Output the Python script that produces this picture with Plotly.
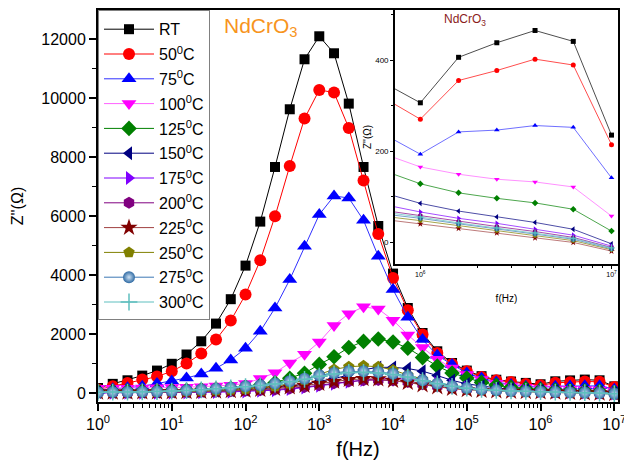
import plotly.graph_objects as go

# frequency exponents (log10 f) of the measured points
freq_exp = [0.0, 0.2, 0.4, 0.6, 0.8, 1.0, 1.2, 1.4, 1.6, 1.8,
            2.0, 2.2, 2.4, 2.6, 2.8, 3.0, 3.2, 3.4, 3.6, 3.8,
            4.0, 4.2, 4.4, 4.6, 4.8, 5.0, 5.2, 5.4, 5.6, 5.8,
            6.0, 6.2, 6.4, 6.6, 6.8, 7.0]
freq = [10 ** e for e in freq_exp]

z_RT = [180, 320, 441, 600, 770, 1000, 1315, 1763, 2363, 3190,
        4328, 5820, 7672, 9628, 11323, 12102, 11526, 9820, 7672, 5672,
        4058, 2892, 2045, 1424, 1028, 770, 580, 460, 400, 352,
        306, 406, 438, 465, 441, 235]
z_50 = [130, 237, 350, 464, 566, 746, 1007, 1346, 1820, 2464,
        3346, 4509, 6000, 7705, 9312, 10283, 10194, 8995, 7210, 5400,
        3909, 2814, 1990, 1366, 993, 746, 553, 441, 383, 319,
        270, 355, 377, 402, 389, 214]
z_75 = [100, 150, 190, 237, 330, 420, 519, 650, 850, 1130,
        1525, 2102, 2892, 3854, 4983, 6058, 6689, 6621, 5865, 4644,
        3515, 2576, 1820, 1288, 973, 688, 519, 383, 300, 239,
        193, 242, 246, 256, 252, 141]
z_100 = [170, 170, 175, 180, 185, 195, 205, 220, 245, 275,
         335, 498, 700, 1030, 1320, 1740, 2300, 2700, 2930, 2860,
         2480, 1980, 1550, 1150, 860, 634, 464, 340, 250, 195,
         165, 149, 138, 132, 121, 57]
z_125 = [70, 70, 75, 80, 85, 95, 105, 120, 140, 170,
         215, 271, 360, 510, 680, 980, 1240, 1550, 1760, 1840,
         1740, 1530, 1210, 920, 690, 520, 370, 270, 200, 158,
         128, 108, 96, 86, 72, 24]
z_150 = [40, 40, 42, 45, 50, 55, 62, 72, 85, 100,
         120, 150, 190, 240, 310, 400, 500, 620, 800, 880,
         880, 840, 750, 600, 440, 320, 240, 180, 140, 109,
         85, 68, 55, 43, 28, -4]
z_175 = [15, 15, 15, 16, 18, 20, 24, 30, 38, 48,
         62, 80, 105, 140, 190, 250, 320, 390, 450, 490,
         500, 480, 420, 340, 260, 195, 150, 125, 100, 83,
         66, 52, 41, 28, 15, -9]
z_200 = [20, 20, 22, 25, 28, 32, 38, 45, 55, 68,
         85, 105, 130, 165, 210, 270, 340, 400, 440, 450,
         430, 380, 310, 240, 180, 140, 110, 95, 80, 70,
         58, 45, 34, 23, 10, -12]
z_225 = [30, 30, 32, 35, 38, 42, 48, 56, 67, 82,
         100, 125, 160, 205, 260, 330, 400, 460, 490, 480,
         430, 360, 280, 210, 155, 115, 88, 70, 58, 50,
         40, 30, 20, 9, -1, -20]
z_250 = [40, 40, 42, 45, 50, 56, 65, 78, 95, 120,
         150, 190, 230, 330, 450, 640, 810, 900, 930, 900,
         790, 620, 470, 340, 240, 170, 125, 95, 75, 57,
         47, 36, 25, 14, 3, -17]
z_275 = [30, 44, 44, 50, 60, 80, 100, 125, 158, 192,
         237, 271, 328, 407, 497, 610, 688, 746, 746, 723,
         666, 576, 441, 328, 240, 180, 135, 105, 80, 62,
         52, 40, 29, 18, 6, -15]
z_300 = [35, 40, 42, 48, 58, 75, 95, 118, 150, 185,
         225, 262, 315, 390, 475, 580, 655, 705, 710, 690,
         635, 550, 425, 320, 235, 175, 130, 100, 80, 66,
         55, 42, 31, 20, 8, -13]

series_names = ["RT", "50<sup>0</sup>C", "75<sup>0</sup>C", "100<sup>0</sup>C",
                "125<sup>0</sup>C", "150<sup>0</sup>C", "175<sup>0</sup>C",
                "200<sup>0</sup>C", "225<sup>0</sup>C", "250<sup>0</sup>C",
                "275<sup>0</sup>C", "300<sup>0</sup>C"]
series_vals = [z_RT, z_50, z_75, z_100, z_125, z_150, z_175, z_200,
               z_225, z_250, z_275, z_300]
marker_colors = ["#000000", "#FF0000", "#0000FF", "#FF00FF", "#008000",
                 "#000080", "#8000FF", "#800080", "#800000", "#808000",
                 "#2F6AA3", "#5FBFBF"]
line_colors = ["#000000", "#FF0000", "#3030FF", "#FF60FF", "#008000",
               "#000080", "#8000FF", "#800080", "#A04040", "#808000",
               "#3C78B4", "#5FBFBF"]
symbols = ["square", "circle", "triangle-up", "triangle-down", "diamond",
           "triangle-left", "triangle-right", "hexagon", "star", "pentagon",
           "circle", "cross-thin"]
sizes = [10, 12, 13, 13, 12, 12, 12, 12, 13, 12, 12, 12]

x_tick_vals = [1, 10, 100, 1e3, 1e4, 1e5, 1e6, 1e7]
x_tick_text = ["10<sup>0</sup>", "10<sup>1</sup>", "10<sup>2</sup>", "10<sup>3</sup>",
               "10<sup>4</sup>", "10<sup>5</sup>", "10<sup>6</sup>", "10<sup>7</sup>"]
minor_x = [m * 10 ** d for d in range(0, 7) for m in range(2, 10)]

fig = go.Figure()

for k, (name, vals, mc, lc, sym, sz) in enumerate(zip(series_names, series_vals,
                                                       marker_colors, line_colors,
                                                       symbols, sizes)):
    mk = dict(symbol=sym, size=sz, color=mc, line=dict(width=0, color=mc))
    if sym == "cross-thin":
        mk["line"] = dict(width=1.5, color=mc)
    if name.startswith("275"):
        mk["gradient"] = dict(type="radial", color="#CFE3F5")
    fig.add_trace(go.Scatter(x=freq, y=vals, name=name, mode="lines+markers",
                             legendgroup="g%d" % k,
                             line=dict(color=lc, width=1), marker=mk,
                             xaxis="x", yaxis="y"))

for k, (name, vals, mc, lc, sym) in enumerate(zip(series_names, series_vals,
                                                   marker_colors, line_colors,
                                                   symbols)):
    mk = dict(symbol=sym, size=5, color=mc, line=dict(width=0, color=mc))
    if sym == "cross-thin":
        mk["line"] = dict(width=1, color=mc)
    fig.add_trace(go.Scatter(x=freq, y=vals, name=name, mode="lines+markers",
                             legendgroup="g%d" % k,
                             showlegend=False, line=dict(color=lc, width=0.7),
                             marker=mk, xaxis="x2", yaxis="y2"))

narrow = "Liberation Sans Narrow, Arial Narrow, Arial"

fig.update_layout(
    width=624, height=462,
    margin=dict(l=98, r=6, t=10, b=60, autoexpand=False),
    paper_bgcolor="white", plot_bgcolor="white",
    font=dict(family="Arial, Liberation Sans", color="black"),
    xaxis=dict(type="log", range=[0, 7.05], domain=[0, 1], anchor="y",
               automargin=False,
               showline=True, linewidth=2, linecolor="black", mirror=True,
               ticks="outside", ticklen=7, tickwidth=1.5, tickcolor="black",
               tickvals=x_tick_vals, ticktext=x_tick_text,
               ticklabeloverflow="allow",
               tickfont=dict(size=16), showgrid=False, zeroline=False,
               minor=dict(tickvals=minor_x, ticks="outside", ticklen=4,
                          tickwidth=1, tickcolor="black", showgrid=False),
               title=dict(text="f(Hz)", font=dict(size=20), standoff=10)),
    yaxis=dict(range=[-295, 12993], domain=[0, 1], anchor="x",
               automargin=False,
               showline=True, linewidth=2, linecolor="black", mirror=True,
               ticks="outside", ticklen=7, tickwidth=1.5, tickcolor="black",
               dtick=2000, tick0=0, tickformat="d", tickfont=dict(size=16),
               showgrid=False, zeroline=False,
               minor=dict(dtick=1000, ticks="outside", ticklen=4, tickwidth=1,
                          tickcolor="black", showgrid=False),
               title=dict(text="Z''(\u03a9)", font=dict(size=16), standoff=14)),
    xaxis2=dict(type="log", range=[5.867, 7.034], domain=[0.571, 1], anchor="y2",
                automargin=False,
                showline=True, linewidth=1.5, linecolor="black", mirror=True,
                ticks="outside", ticklen=3, tickwidth=1, tickcolor="black",
                tickvals=[1e6, 1e7], ticktext=["10<sup>6</sup>", "10<sup>7</sup>"],
                tickfont=dict(size=7, family=narrow), showgrid=False, zeroline=False,
                minor=dict(tickvals=[m * 1e6 for m in range(2, 10)], ticks="outside",
                           ticklen=2, tickwidth=1, tickcolor="black", showgrid=False),
                title=dict(text="f(Hz)", font=dict(size=10, family=narrow), standoff=18)),
    yaxis2=dict(range=[-48.4, 510], domain=[0.352, 1], anchor="x2",
                automargin=False,
                showline=True, linewidth=1.5, linecolor="black", mirror=True,
                ticks="outside", ticklen=3, tickwidth=1, tickcolor="black",
                tickvals=[0, 200, 400], tickfont=dict(size=8, family=narrow),
                showgrid=False, zeroline=False,
                minor=dict(dtick=100, ticks="outside", ticklen=2, tickwidth=1,
                           tickcolor="black", showgrid=False),
                title=dict(text="Z''(\u03a9)", font=dict(size=10, family=narrow), standoff=2)),
    legend=dict(x=0, y=1, xanchor="left", yanchor="top", bgcolor="white",
                bordercolor="#808080", borderwidth=1, font=dict(size=16),
                itemwidth=50, tracegroupgap=1.0,
                title=dict(text=" ", font=dict(size=1))),
    showlegend=True,
)

fig.add_annotation(text="NdCrO<sub>3</sub>", xref="paper", yref="paper",
                   x=0.238, y=0.957, xanchor="left", yanchor="middle",
                   showarrow=False, font=dict(size=21, color="#F7941D"))
fig.add_annotation(text="NdCrO<sub>3</sub>", xref="paper", yref="paper",
                   x=0.706, y=0.974, xanchor="center", yanchor="middle",
                   showarrow=False, font=dict(size=12, color="#8B1C1C", family=narrow))

fig.write_html("out.html")
